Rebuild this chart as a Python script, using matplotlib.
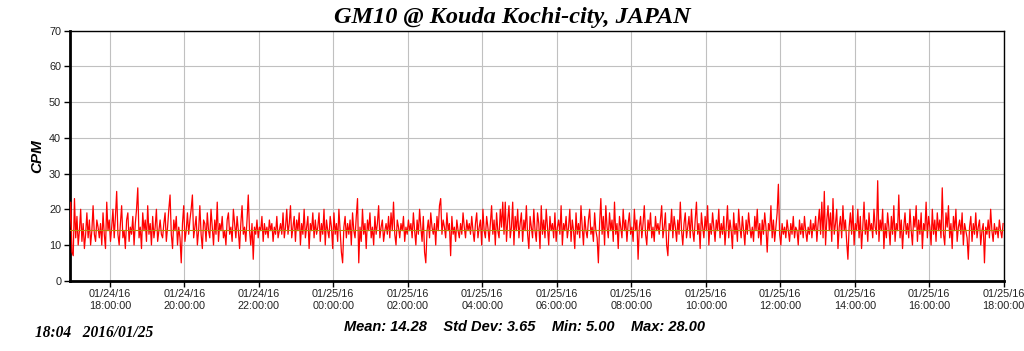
import matplotlib
matplotlib.use("Agg")
import matplotlib.pyplot as plt
import matplotlib.dates as mdates
import numpy as np
import datetime as dt

# ---- data (CPM, one reading every 2 minutes from 2016-01-24 16:55) ----
start_time = dt.datetime(2016, 1, 24, 16, 55)
step_minutes = 2
cpm = [
    15, 22, 8, 7, 23, 12, 18, 10, 14, 20, 11, 16, 9, 13, 19, 12, 17, 10, 14, 21, 13, 11, 17, 15, 12,
    16, 10, 19, 13, 9, 22, 14, 17, 11, 15, 20, 12, 18, 25, 13, 10, 16, 21, 12, 14, 9, 17, 19, 11, 15,
    13, 18, 10, 16, 20, 26, 12, 15, 9, 19, 14, 17, 11, 21, 13, 16, 10, 18, 12, 15, 20, 11, 14, 17, 13,
    12, 16, 19, 11, 15, 20, 24, 13, 9, 17, 14, 18, 10, 15, 12, 5, 16, 21, 11, 14, 19, 13, 17, 20, 24,
    12, 15, 18, 10, 14, 21, 13, 9, 17, 16, 11, 19, 14, 12, 20, 15, 10, 17, 13, 22, 11, 16, 14, 18, 12,
    14, 10, 17, 19, 13, 15, 11, 20, 16, 12, 18, 14, 9, 16, 21, 13, 15, 11, 17, 24, 14, 10, 16, 6, 15,
    13, 17, 12, 15, 14, 18, 11, 16, 13, 15, 12, 17, 14, 16, 11, 15, 13, 18, 12, 14, 16, 13, 19, 12, 15,
    20, 13, 16, 21, 12, 15, 18, 11, 17, 14, 19, 10, 16, 13, 20, 12, 15, 18, 9, 16, 14, 19, 12, 17, 13,
    15, 19, 11, 16, 13, 20, 10, 17, 14, 12, 18, 15, 9, 19, 13, 16, 11, 20, 14, 8, 5, 15, 18, 12, 16,
    13, 17, 10, 19, 14, 12, 18, 23, 5, 15, 11, 20, 13, 16, 9, 17, 14, 19, 12, 15, 10, 18, 13, 16, 21,
    12, 15, 17, 11, 14, 16, 13, 18, 12, 19, 14, 22, 13, 10, 17, 15, 12, 16, 14, 18, 11, 15, 13, 17, 14,
    16, 12, 19, 14, 10, 17, 13, 20, 15, 11, 18, 8, 5, 14, 17, 12, 19, 15, 13, 16, 10, 18, 14, 21, 23,
    13, 17, 15, 12, 19, 14, 16, 7, 18, 13, 15, 11, 17, 14, 12, 16, 13, 19, 15, 12, 17, 14, 16, 13, 18,
    14, 11, 16, 19, 12, 15, 17, 10, 20, 14, 12, 18, 15, 11, 16, 21, 13, 17, 10, 19, 14, 12, 20, 15, 22,
    13, 22, 11, 17, 21, 12, 15, 22, 10, 18, 14, 20, 12, 16, 19, 11, 17, 14, 21, 13, 9, 18, 15, 12, 20,
    14, 11, 19, 16, 9, 21, 13, 17, 12, 20, 15, 10, 18, 14, 16, 12, 19, 11, 15, 17, 13, 21, 10, 16, 14,
    18, 12, 15, 20, 11, 17, 14, 9, 19, 13, 16, 12, 21, 15, 10, 18, 14, 12, 17, 20, 13, 15, 11, 19, 14,
    12, 5, 16, 23, 13, 18, 10, 21, 15, 12, 19, 14, 17, 11, 22, 13, 16, 9, 18, 15, 12, 20, 14, 17, 11,
    16, 19, 13, 15, 11, 20, 14, 17, 6, 15, 18, 12, 16, 21, 13, 10, 17, 14, 19, 12, 15, 11, 18, 14, 16,
    13, 17, 21, 12, 15, 19, 10, 7, 16, 14, 20, 12, 18, 15, 11, 17, 13, 22, 14, 10, 16, 19, 12, 15, 18,
    12, 20, 14, 11, 17, 22, 13, 16, 9, 19, 15, 12, 18, 14, 21, 10, 16, 13, 19, 15, 11, 17, 14, 20, 12,
    16, 13, 18, 10, 15, 21, 12, 17, 14, 9, 19, 13, 16, 11, 20, 15, 12, 18, 14, 10, 17, 13, 19, 15, 12,
    15, 11, 18, 14, 20, 12, 16, 10, 17, 13, 19, 15, 8, 16, 14, 21, 12, 17, 11, 15, 19, 27, 13, 10, 16,
    13, 15, 12, 17, 14, 11, 16, 13, 18, 12, 15, 14, 10, 17, 13, 16, 12, 18, 14, 11, 15, 13, 17, 12, 16,
    14, 18, 11, 16, 20, 13, 22, 12, 25, 10, 17, 21, 14, 19, 11, 23, 13, 16, 20, 9, 15, 18, 12, 21, 14,
    17, 11, 6, 15, 19, 13, 21, 10, 16, 14, 20, 12, 18, 9, 15, 22, 13, 17, 11, 19, 14, 16, 12, 20, 15,
    13, 28, 11, 17, 14, 20, 9, 16, 12, 19, 15, 10, 18, 13, 21, 11, 16, 14, 24, 12, 17, 9, 15, 19, 13,
    16, 12, 20, 14, 10, 18, 15, 21, 11, 17, 13, 19, 9, 16, 14, 22, 12, 18, 15, 10, 20, 13, 17, 11, 19,
    14, 17, 12, 26, 13, 10, 19, 15, 21, 12, 16, 9, 18, 14, 20, 11, 15, 17, 13, 19, 10, 16, 14, 12, 6,
    15, 18, 11, 16, 13, 19, 12, 15, 17, 10, 14, 16, 5, 15, 13, 17, 12, 20, 14, 11, 16, 13, 15, 12, 17,
    14, 12, 16,
]
mean_value = 14.28
title_text = "GM10 @ Kouda Kochi-city, JAPAN"
stats_text = "Mean: 14.28    Std Dev: 3.65    Min: 5.00    Max: 28.00"
stamp_text = "18:04   2016/01/25"
y_label = "CPM"

times = [start_time + dt.timedelta(minutes=step_minutes * i) for i in range(len(cpm))]
x_start = dt.datetime(2016, 1, 24, 16, 55)
x_end = dt.datetime(2016, 1, 25, 18, 0)

fig = plt.figure(figsize=(10.24, 3.51), dpi=100)
ax = fig.add_axes([69.5 / 1024, 1 - 280.7 / 351, (1003.7 - 69.5) / 1024, 250 / 351])

ax.plot(times, cpm, color="#ff0000", lw=0.9, zorder=3)
ax.axhline(mean_value, color="#b8860b", lw=0.8, zorder=4)

ax.set_xlim(x_start, x_end)
ax.set_ylim(0, 70)
ax.set_yticks(np.arange(0, 71, 10))
ax.xaxis.set_major_locator(mdates.HourLocator(byhour=range(0, 24, 2)))
ax.xaxis.set_major_formatter(mdates.DateFormatter("%m/%d/%y\n%H:%M:%S"))

ax.grid(True, color="#c0c0c0", lw=0.8, zorder=0)
ax.set_axisbelow(True)

for side in ["left", "bottom"]:
    ax.spines[side].set_linewidth(2.0)
for side in ["top", "right"]:
    ax.spines[side].set_linewidth(1.0)

ax.tick_params(axis="both", direction="out", length=4, width=1, labelsize=7.8,
               labelcolor="#222222", pad=2)
for lab in ax.get_xticklabels():
    lab.set_fontfamily("Liberation Sans")
    lab.set_linespacing(1.25)
for lab in ax.get_yticklabels():
    lab.set_fontfamily("Liberation Sans")

ax.set_ylabel(y_label, fontsize=11, fontweight="bold", fontstyle="italic",
              family="Liberation Sans")
ax.yaxis.set_label_coords((44 - 69.5) / 934, 0.5)

fig.text(512 / 1024, 1 - 17 / 351, title_text, ha="center", va="center", fontsize=17.5,
         fontweight="bold", fontstyle="italic", family="Liberation Serif")
fig.text(524 / 1024, 1 - 327 / 351, stats_text, ha="center", va="center",
         fontsize=10.5, fontweight="bold", fontstyle="italic", family="Liberation Sans")
fig.text(35 / 1024, 1 - 333 / 351, stamp_text, ha="left", va="center",
         fontsize=11.2, fontweight="bold", fontstyle="italic", family="Liberation Serif")

fig.savefig("out.png", dpi=100)
